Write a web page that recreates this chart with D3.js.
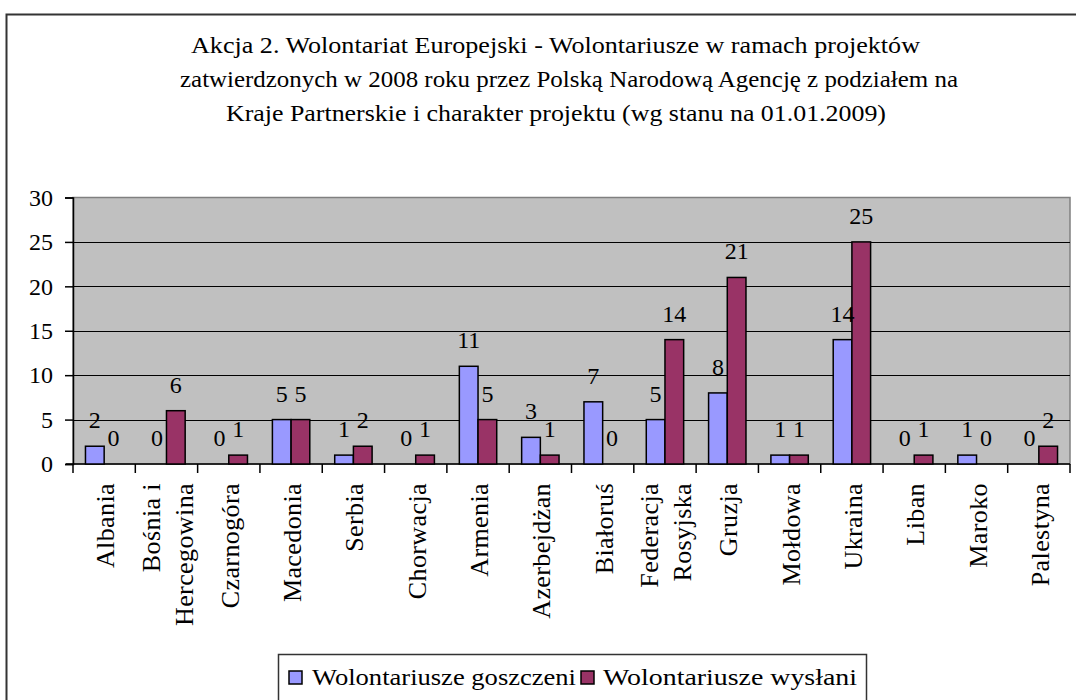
<!DOCTYPE html>
<html>
<head>
<meta charset="utf-8">
<script src="https://cdn.jsdelivr.net/npm/d3@7"></script>
<style>
  html, body { margin: 0; padding: 0; background: #fff; }
  svg text { font-family: "Liberation Serif", "Times New Roman", serif; fill: #000; }
</style>
</head>
<body>
<svg id="chart" width="1076" height="700"></svg>
<script>
// data
const countries = [
  ["Albania"], ["Bośnia i", "Hercegowina"], ["Czarnogóra"], ["Macedonia"], ["Serbia"],
  ["Chorwacja"], ["Armenia"], ["Azerbejdżan"], ["Białoruś"], ["Federacja", "Rosyjska"],
  ["Gruzja"], ["Mołdowa"], ["Ukraina"], ["Liban"], ["Maroko"], ["Palestyna"]
];
const seriesNames = ["Wolontariusze goszczeni", "Wolontariusze wysłani"];
const hosted = [2, 0, 0, 5, 1, 0, 11, 3, 7, 5, 8, 1, 14, 0, 1, 0];
const sent   = [0, 6, 1, 5, 2, 1, 5, 1, 0, 14, 21, 1, 25, 1, 0, 2];
const yTicks = [0, 5, 10, 15, 20, 25, 30];
const titleLines = [
  "Akcja 2. Wolontariat Europejski - Wolontariusze w ramach projektów",
  "zatwierdzonych w 2008 roku przez Polską Narodową Agencję z podziałem na",
  "Kraje Partnerskie i charakter projektu  (wg stanu na 01.01.2009)"
];

const colors = ["#9999FF", "#993366"];
const keys = countries.map(c => c.join(" "));
const rows = keys.map((k, i) => ({ key: k, lines: countries[i], vals: [hosted[i], sent[i]] }));

const svg = d3.select("#chart");
const plot = { left: 73, right: 1070, top: 197.5, bottom: 464 };

// outer frame
svg.append("rect")
  .attr("x", 6.5).attr("y", 14.5).attr("width", 1200).attr("height", 900)
  .attr("fill", "#fff").attr("stroke", "#333").attr("stroke-width", 2);

// title
const titleX = [[191, 729], [180, 778], [226, 660]];
const titleY = [53, 87, 121];
titleLines.forEach((t, i) => {
  svg.append("text")
    .attr("x", titleX[i][0]).attr("y", titleY[i])
    .attr("textLength", titleX[i][1]).attr("lengthAdjust", "spacingAndGlyphs")
    .style("font-size", "23px")
    .text(t);
});

const x0 = d3.scaleBand().domain(keys).range([plot.left, plot.right]).padding(0);
const bw = x0.bandwidth();
const x1 = d3.scaleBand().domain([0, 1]).range([bw * 0.2, bw * 0.8]).padding(0);
const y = d3.scaleLinear().domain([0, 30]).range([plot.bottom, plot.top]);

// plot area
svg.append("rect")
  .attr("x", plot.left).attr("y", plot.top)
  .attr("width", plot.right - plot.left).attr("height", plot.bottom - plot.top)
  .attr("fill", "#C0C0C0").attr("stroke", "#808080").attr("stroke-width", 1.5);

// gridlines
svg.append("g").selectAll("line")
  .data(yTicks.filter(d => d > 0 && d < 30))
  .join("line")
  .attr("x1", plot.left).attr("x2", plot.right)
  .attr("y1", d => Math.round(y(d)) + 0.5).attr("y2", d => Math.round(y(d)) + 0.5)
  .attr("stroke", "#000").attr("stroke-width", 1.2);

// y axis
const yAxis = svg.append("g")
  .attr("transform", `translate(${plot.left},0)`)
  .call(d3.axisLeft(y).tickValues(yTicks).tickSize(8).tickPadding(12));
yAxis.select(".domain").attr("stroke", "#000").attr("stroke-width", 1.5);
yAxis.selectAll(".tick line").attr("stroke", "#000").attr("stroke-width", 1.5);
yAxis.selectAll(".tick text")
  .style("font-size", "24px").attr("font-family", null);

// x axis (ticks at band edges)
const xAxis = svg.append("g").attr("transform", `translate(0,${plot.bottom})`);
xAxis.append("line")
  .attr("x1", plot.left - 7).attr("x2", plot.right)
  .attr("stroke", "#000").attr("stroke-width", 1.5);
const edges = keys.map(k => x0(k)).concat([plot.right]);
xAxis.selectAll("line.tk").data(edges).join("line").attr("class", "tk")
  .attr("x1", d => d).attr("x2", d => d).attr("y1", 0).attr("y2", 9)
  .attr("stroke", "#000").attr("stroke-width", 1.5);

// category labels, rotated
const catG = svg.append("g");
rows.forEach(r => {
  const cx = x0(r.key) + bw / 2;
  const n = r.lines.length;
  r.lines.forEach((ln, j) => {
    const lx = cx + (j - (n - 1) / 2) * 33 + 10;
    catG.append("text")
      .attr("transform", `translate(${lx},483) rotate(-90)`)
      .attr("text-anchor", "end")
      .style("font-size", "26px")
      .style("letter-spacing", "0.4px")
      .text(ln);
  });
});

// bars
const groups = svg.append("g").selectAll("g")
  .data(rows).join("g")
  .attr("transform", d => `translate(${x0(d.key)},0)`);

groups.selectAll("rect")
  .data(d => d.vals.map((v, i) => ({ v, i })))
  .join("rect")
  .attr("x", d => x1(d.i)).attr("width", x1.bandwidth())
  .attr("y", d => y(d.v)).attr("height", d => y(0) - y(d.v))
  .attr("fill", d => colors[d.i])
  .attr("stroke", "#000").attr("stroke-width", d => d.v > 0 ? 1.5 : 0);

groups.selectAll("text")
  .data(d => d.vals.map((v, i) => ({ v, i })))
  .join("text")
  .attr("x", d => x1(d.i) + x1.bandwidth() / 2)
  .attr("y", d => y(d.v) - 18)
  .attr("text-anchor", "middle")
  .style("font-size", "24px")
  .text(d => d.v);

// legend
const lg = svg.append("g");
lg.append("rect")
  .attr("x", 278.5).attr("y", 654.5).attr("width", 588).attr("height", 80)
  .attr("fill", "#fff").attr("stroke", "#333").attr("stroke-width", 1.5);
const legendItems = [
  { sx: 289, tx: 312, len: 264 },
  { sx: 581, tx: 603, len: 254 }
];
seriesNames.forEach((s, i) => {
  lg.append("rect")
    .attr("x", legendItems[i].sx).attr("y", 671).attr("width", 13).attr("height", 13)
    .attr("fill", colors[i]).attr("stroke", "#000").attr("stroke-width", 1.5);
  lg.append("text")
    .attr("x", legendItems[i].tx).attr("y", 685)
    .attr("textLength", legendItems[i].len).attr("lengthAdjust", "spacingAndGlyphs")
    .style("font-size", "24px")
    .text(s);
});
</script>
</body>
</html>
